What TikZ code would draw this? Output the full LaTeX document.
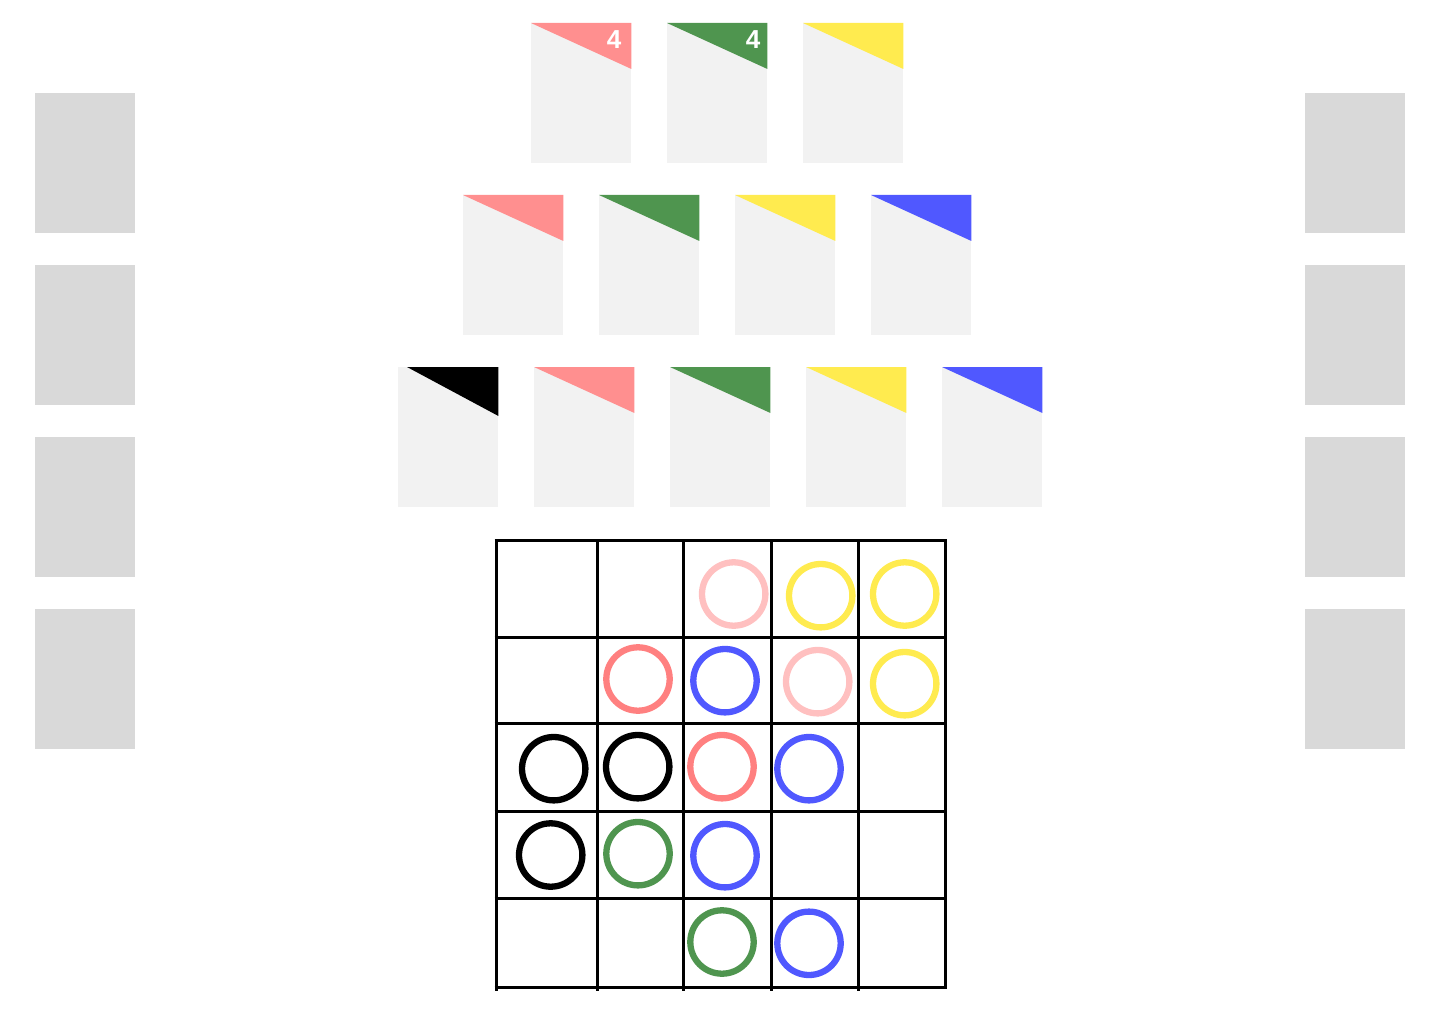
\documentclass[tikz,border=0pt]{standalone}
\usepackage{fontspec}
\setsansfont{Liberation Sans}

\definecolor{kartengrau}{HTML}{F2F2F2}
\definecolor{ablagegrau}{HTML}{D9D9D9}
\definecolor{rosa}{HTML}{FF8F8F}
\definecolor{gruen}{HTML}{4F954F}
\definecolor{gelb}{HTML}{FFEB4F}
\definecolor{blau}{HTML}{5058FF}
\definecolor{lachs}{HTML}{FF8080}
\definecolor{hellrosa}{HTML}{FFC0C0}

\tikzset{
	karte/.style={fill=kartengrau, minimum width=100pt, minimum height=140pt, inner sep=0pt, anchor=north west},
	ablage/.style={fill=ablagegrau, minimum width=100pt, minimum height=140pt, inner sep=0pt, anchor=north west},
	wert/.style={text=white, font=\sffamily\bfseries\fontsize{26}{26}\selectfont, inner sep=0pt},
	ring/.style={line width=6.3pt}
}

\begin{document}
\begin{tikzpicture}[x=1pt,y=-1pt]

	% Rahmen
	\useasboundingbox (0,0) rectangle (1440,1024);

	% Ablagen links und rechts
	\foreach \i/\y in {1/93,2/265,3/437,4/609} {
		\node[ablage] (L\i) at (35,\y) {};
		\node[ablage] (R\i) at (1305,\y) {};
	}

	% Karten (Pyramide)
	\foreach \i/\x in {1/531,2/667,3/803}
		\node[karte] (a\i) at (\x,23) {};
	\foreach \i/\x in {1/463,2/599,3/735,4/871}
		\node[karte] (b\i) at (\x,195) {};
	\foreach \i/\x in {1/398,2/534,3/670,4/806,5/942}
		\node[karte] (c\i) at (\x,367) {};

	% Farbecken
	\def\h{46}
	\foreach \k/\f in {a1/rosa,a2/gruen,a3/gelb,b1/rosa,b2/gruen,b3/gelb,b4/blau,c2/rosa,c3/gruen,c4/gelb,c5/blau}
		\fill[\f] (\k.north west) -- (\k.north east) -- ++(0,\h) -- cycle;
	\fill[black] (c1.north west) ++(9,0) -- (c1.north east) -- ++(0,49) -- cycle;

	% Werte
	\node[wert] (w1) at (614,40) {4};
	\node[wert] (w2) at (753,40) {4};

	% Spielfeld
	\foreach \x in {496,597,683,771,858}
		\draw[line width=3pt] (\x,540) -- (\x,991);
	\draw[line width=3pt] (945,540) -- (945,987);
	\foreach \y in {540,637,723,811.5,898,987}
		\draw[line width=3pt] (494.5,\y) -- (946.5,\y);

	% Ringe
	\def\r{31.7}
	\foreach \x/\y/\f in {733.7/594/hellrosa, 820.7/595.7/gelb, 904.7/594/gelb,
		638/679/lachs, 725/680.7/blau, 817.7/681.7/hellrosa, 904.7/683.7/gelb,
		553.7/768.7/black, 637.7/766.7/black, 722/766.7/lachs, 809/768.7/blau,
		550.7/855/black, 638/853.7/gruen, 725/855.7/blau,
		722/942/gruen, 809/943.3/blau}
		\draw[ring,\f] (\x,\y) circle (\r);

\end{tikzpicture}
\end{document}
